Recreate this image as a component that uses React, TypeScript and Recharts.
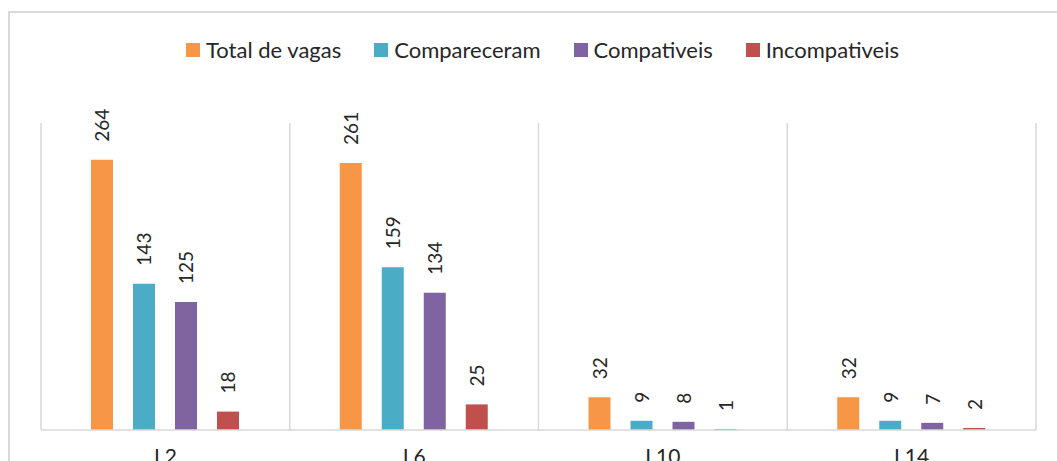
import { BarChart, Bar, XAxis, YAxis, CartesianGrid, LabelList } from 'recharts';

const categories = ['L2', 'L6', 'L10', 'L14'];
const totalVagas = [264, 261, 32, 32];
const compareceram = [143, 159, 9, 9];
const compativeis = [125, 134, 8, 7];
const incompativeis = [18, 25, 1, 2];

const series = [
  { key: 'total', name: 'Total de vagas', color: '#F79646', values: totalVagas },
  { key: 'compareceram', name: 'Compareceram', color: '#4BACC6', values: compareceram },
  { key: 'compativeis', name: 'Compativeis', color: '#8064A2', values: compativeis },
  { key: 'incompativeis', name: 'Incompativeis', color: '#C0504D', values: incompativeis },
];

const data = categories.map((cat, i) => {
  const row: Record<string, string | number> = { cat };
  series.forEach((s) => {
    row[s.key] = s.values[i];
  });
  return row;
});

const FONT = 'Lato, "Noto Sans", sans-serif';
const GRID = '#d9d9d9';

// vertical value label sitting above each bar
const RotatedLabel = (props: any) => {
  const { x, y, width, value } = props;
  const cx = x + width / 2;
  const ty = y - 18;
  return (
    <text
      x={cx}
      y={ty}
      transform={`rotate(-90, ${cx}, ${ty})`}
      textAnchor="start"
      dominantBaseline="central"
      fontFamily={FONT}
      fontSize={19}
      fill="#262626"
    >
      {value}
    </text>
  );
};

const CategoryTick = (props: any) => {
  const { x, y, payload } = props;
  return (
    <text x={x} y={y + 34} textAnchor="middle" fontFamily={FONT} fontSize={21} fill="#262626">
      {payload.value}
    </text>
  );
};

// separators between categories, like the Excel category boundaries
const boundaryLines = ({ offset }: any) => {
  const step = offset.width / categories.length;
  return categories.map((_, i) => offset.left + i * step).concat(offset.left + offset.width);
};

export default function App() {
  return (
    <div style={{ position: 'fixed', left: 0, top: 0, width: 1057, height: 461, overflow: 'hidden', background: '#fff' }}>
      <div
        style={{
          position: 'absolute',
          left: 8,
          top: 11,
          width: 1200,
          height: 600,
          border: `2px solid ${GRID}`,
        }}
      />
      <div
        style={{
          position: 'absolute',
          left: 0,
          top: 36,
          width: 1085,
          display: 'flex',
          justifyContent: 'center',
          gap: 33,
          fontFamily: FONT,
          fontSize: 22,
          color: '#262626',
          lineHeight: '28px',
        }}
      >
        {series.map((s) => (
          <div key={s.key} style={{ display: 'flex', alignItems: 'center', gap: 6 }}>
            <div style={{ width: 14, height: 14, background: s.color }} />
            <span>{s.name}</span>
          </div>
        ))}
      </div>
      <div style={{ position: 'absolute', left: 0, top: 0 }}>
        <BarChart
          width={1057}
          height={500}
          data={data}
          margin={{ top: 123, right: 21, bottom: 40, left: 41 }}
          barCategoryGap={50}
          barGap={20}
        >
          <CartesianGrid
            horizontal={false}
            stroke={GRID}
            strokeWidth={1.5}
            verticalCoordinatesGenerator={boundaryLines}
          />
          <XAxis
            dataKey="cat"
            height={30}
            tickLine={false}
            tickSize={0}
            tickMargin={0}
            axisLine={{ stroke: GRID, strokeWidth: 1.5 }}
            tick={<CategoryTick />}
          />
          <YAxis hide domain={[0, 300]} />
          {series.map((s) => (
            <Bar key={s.key} dataKey={s.key} name={s.name} fill={s.color} isAnimationActive={false}>
              <LabelList dataKey={s.key} content={<RotatedLabel />} />
            </Bar>
          ))}
        </BarChart>
      </div>
    </div>
  );
}
